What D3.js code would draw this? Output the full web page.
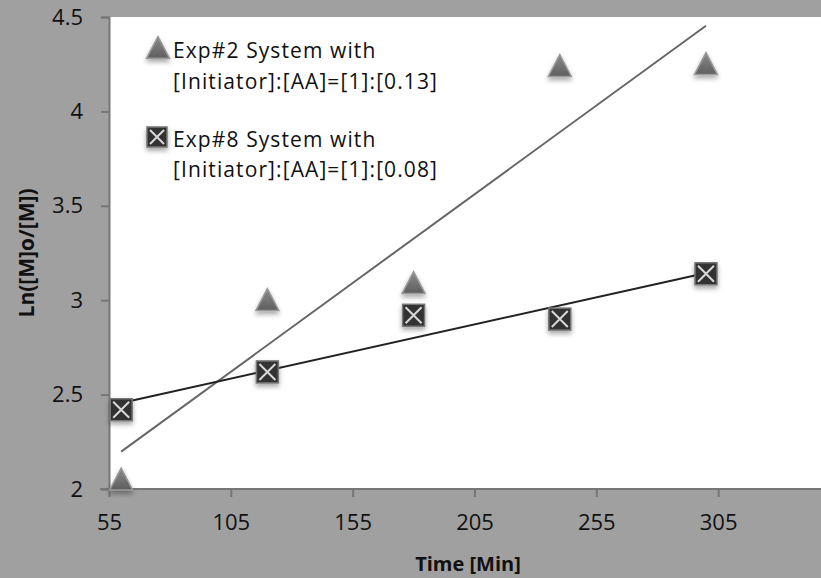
<!DOCTYPE html>
<html><head><meta charset="utf-8">
<script src="https://cdn.jsdelivr.net/npm/d3@7"></script>
<style>body{margin:0;background:#a0a0a0;} svg{display:block;}</style>
</head><body>
<svg id="c" width="821" height="578"></svg>
<script>
const times = [60, 120, 180, 240, 300];
const exp2 = [2.05, 3.00, 3.09, 4.24, 4.25];
const exp8 = [2.42, 2.62, 2.92, 2.90, 3.14];
const xTicks = [55, 105, 155, 205, 255, 305];
const yTicks = [2, 2.5, 3, 3.5, 4, 4.5];
const legend2 = ["Exp#2 System with", "[Initiator]:[AA]=[1]:[0.13]"];
const legend8 = ["Exp#8 System with", "[Initiator]:[AA]=[1]:[0.08]"];

const svg = d3.select("#c");
const W = 821, H = 578;
const m = {l:109, t:17, r:-19, b:89};
const x = d3.scaleLinear().domain([55, 355]).range([m.l, W - m.r]);
const y = d3.scaleLinear().domain([2, 4.5]).range([H - m.b, m.t]);
const font = "'Open Sans', 'Liberation Sans', sans-serif";

svg.append("rect").attr("width", W).attr("height", H).attr("fill", "#a0a0a0");
svg.append("rect").attr("x", m.l).attr("y", m.t).attr("width", W - m.l).attr("height", y(2) - m.t).attr("fill", "#fff");

const defs = svg.append("defs");
const f = defs.append("filter").attr("id","sh").attr("x","-50%").attr("y","-50%").attr("width","200%").attr("height","200%");
f.append("feDropShadow").attr("dx",0).attr("dy",3).attr("stdDeviation",2.5).attr("flood-color","#000").attr("flood-opacity",0.35);
const g1 = defs.append("linearGradient").attr("id","tg").attr("x1",0).attr("y1",0).attr("x2",0).attr("y2",1);
g1.append("stop").attr("offset","0%").attr("stop-color","#8a8a8a");
g1.append("stop").attr("offset","100%").attr("stop-color","#5e5e5e");

// axes
const ax = svg.append("g").attr("transform", `translate(0,${y(2)})`)
  .call(d3.axisBottom(x).tickValues(xTicks).tickSize(8).tickPadding(17).tickFormat(d3.format("d")));
const ay = svg.append("g").attr("transform", `translate(${m.l},0)`)
  .call(d3.axisLeft(y).tickValues(yTicks).tickSize(8).tickPadding(18).tickFormat(d => d));
[ax, ay].forEach(a => {
  a.selectAll("path.domain").attr("stroke", "#777").attr("stroke-width", 2);
  a.selectAll(".tick line").attr("stroke", "#777").attr("stroke-width", 2);
  a.selectAll("text").attr("font-family", font).attr("font-size", 22).attr("fill", "#111");
});
ax.select("path.domain").attr("d", `M${m.l - 9},0H${W}`);

// trend lines (least squares from data)
function fit(xs, ys) {
  const mx = d3.mean(xs), my = d3.mean(ys);
  const b = d3.sum(xs, (v,i) => (v-mx)*(ys[i]-my)) / d3.sum(xs, v => (v-mx)*(v-mx));
  return t => my + b*(t - mx);
}
const f2 = fit(times, exp2), f8 = fit(times, exp8);
const t0 = d3.min(times), t1 = d3.max(times);
svg.append("line").attr("x1", x(t0)).attr("y1", y(f2(t0))).attr("x2", x(t1)).attr("y2", y(f2(t1)))
  .attr("stroke", "#666").attr("stroke-width", 2);
svg.append("line").attr("x1", x(t0)).attr("y1", y(f8(t0))).attr("x2", x(t1)).attr("y2", y(f8(t1)))
  .attr("stroke", "#222").attr("stroke-width", 2);

function tri(g, cx, cy) {
  const s = 11.5;
  g.append("path").attr("d", `M${cx},${cy - s}L${cx + s},${cy + s*0.9}L${cx - s},${cy + s*0.9}Z`)
    .attr("fill", "url(#tg)").attr("stroke", "#999").attr("stroke-width", 1.5).attr("filter", "url(#sh)");
}
function sq(g, cx, cy, s) {
  const h = s/2;
  g.append("rect").attr("x", cx - h).attr("y", cy - h).attr("width", s).attr("height", s)
    .attr("fill", "#333").attr("stroke", "#777").attr("stroke-width", 1.5).attr("filter", "url(#sh)");
  const k = h - 3;
  g.append("path").attr("d", `M${cx-k},${cy-k}L${cx+k},${cy+k}M${cx+k},${cy-k}L${cx-k},${cy+k}`)
    .attr("stroke", "#d8d8d8").attr("stroke-width", 2);
}
const mk = svg.append("g");
times.forEach((t,i) => tri(mk, x(t), y(exp2[i])));
times.forEach((t,i) => sq(mk, x(t), y(exp8[i]), 22));

// legend
const lg = svg.append("g");
tri(lg, 158, 48);
sq(lg, 157, 137, 20);
const lt = (lines, y0, dy) => lines.forEach((s,i) => lg.append("text").attr("x", 173).attr("y", y0 + i*dy)
  .attr("font-family", font).attr("font-size", 21).attr("letter-spacing", "1.1px").attr("fill", "#111").text(s));
lt(legend2, 58, 31);
lt(legend8, 147, 30);

// axis titles
svg.append("text").attr("x", 468).attr("y", 571).attr("text-anchor", "middle")
  .attr("font-family", font).attr("font-weight", "bold").attr("font-size", 20).attr("fill", "#111").text("Time [Min]");
svg.append("text").attr("transform", `translate(34,${(y(2)+y(4.5))/2}) rotate(-90)`).attr("text-anchor", "middle")
  .attr("font-family", font).attr("font-weight", "bold").attr("font-size", 21).attr("fill", "#111").text("Ln([M]o/[M])");
</script>
</body></html>
